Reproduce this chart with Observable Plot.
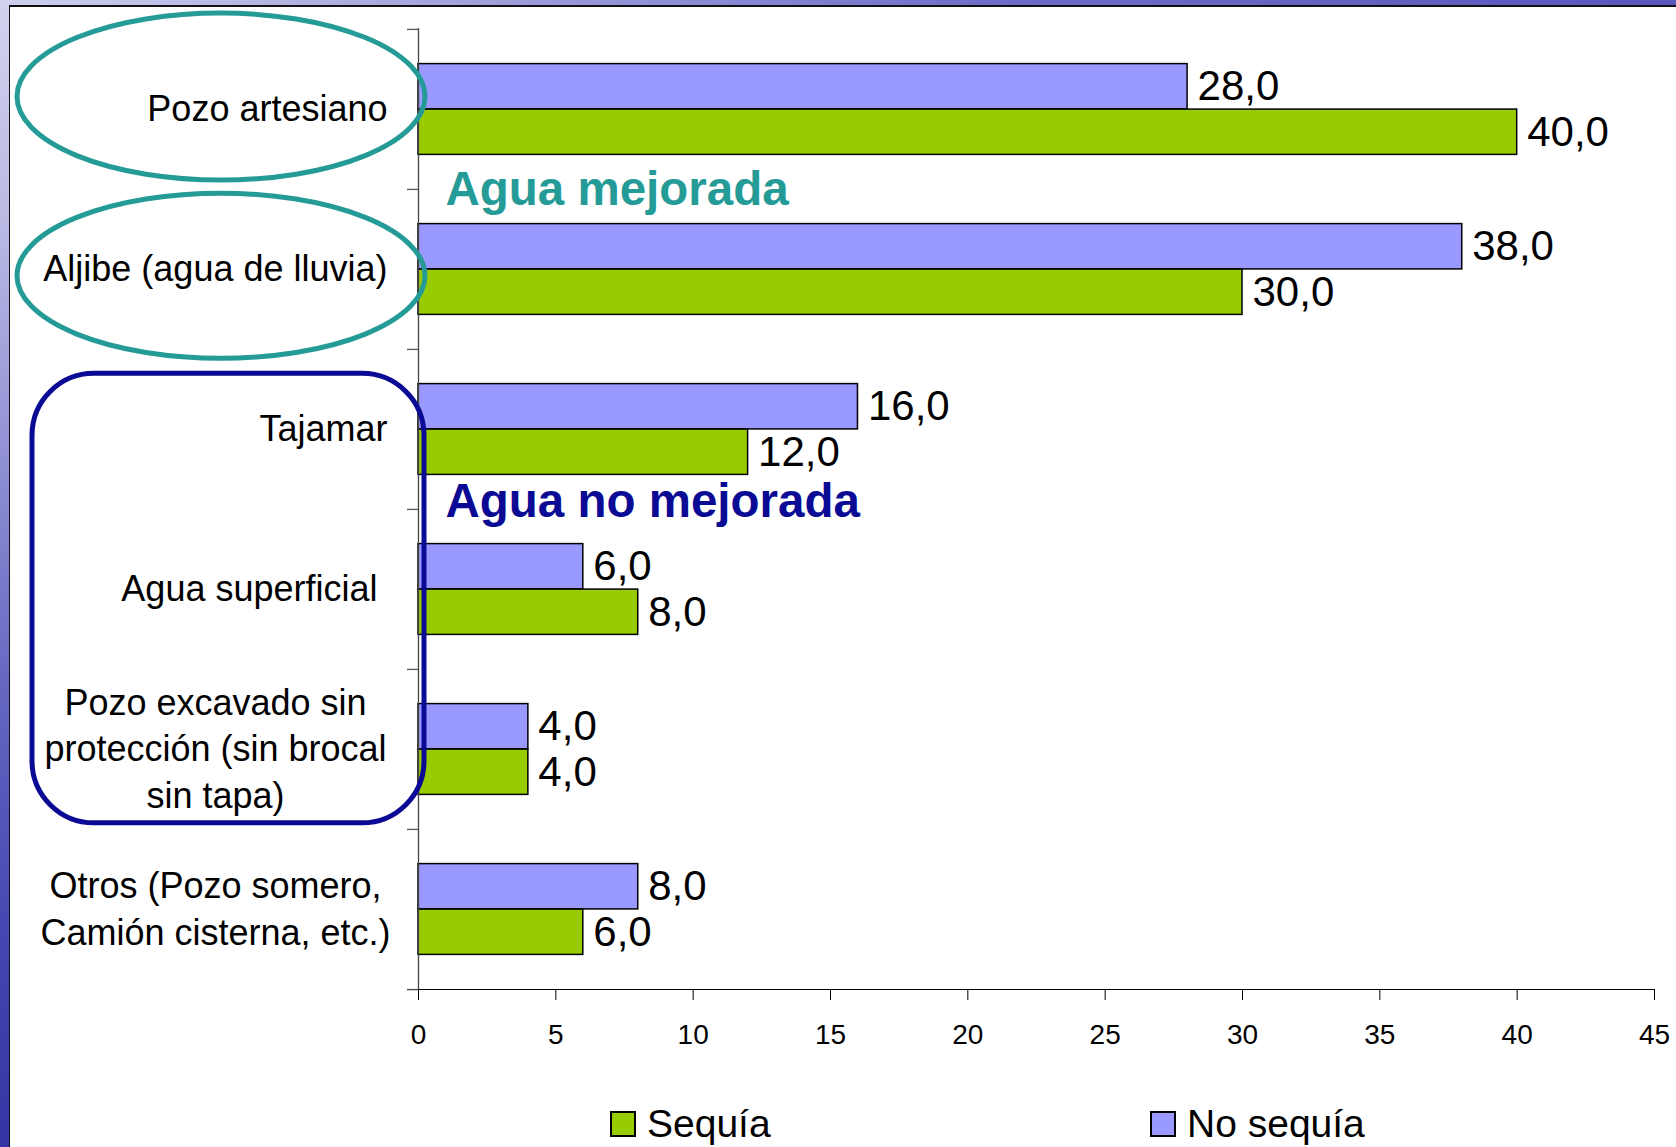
<!DOCTYPE html>
<html>
<head>
<meta charset="utf-8">
<script src="https://cdn.jsdelivr.net/npm/d3@7"></script>
<script src="https://cdn.jsdelivr.net/npm/@observablehq/plot@0.6"></script>
<style>
  html, body { margin: 0; padding: 0; }
  body { width: 1676px; height: 1147px; overflow: hidden; position: relative; background: #6a6ac6;
         font-family: "Liberation Sans", Arial, sans-serif; }
  #topstrip { position: absolute; left: 0; top: 0; width: 1676px; height: 8px;
    background: linear-gradient(90deg, #cfcfee 0%, #aeaee0 20%, #8e8ed6 40%, #6c6cc8 60%, #6262c2 80%, #5858bc 100%); }
  #leftstrip { position: absolute; left: 0; top: 0; width: 10px; height: 1147px;
    background: linear-gradient(180deg, #d2d2ee 0%, #b8b8e4 20%, #9090d4 40%, #6666c2 60%, #4848b2 80%, #3434a4 100%); }
  #panel { position: absolute; left: 9px; top: 5px; width: 1667px; height: 1142px; background: #fff;
    border-left: 1px solid #111; border-top: 2px solid #111; box-sizing: border-box; }
  #chart { position: absolute; left: 0; top: 0; }
  .lg { position: absolute; top: 1095px; display: flex; align-items: center; font-size: 39px; color: #000; }
  .lg .sw { width: 22px; height: 22px; border: 2px solid #000; margin-right: 11px; }
</style>
</head>
<body>
<div id="topstrip"></div>
<div id="leftstrip"></div>
<div id="panel">
  <div id="chart"></div>
  <div id="legend"></div>
</div>
<script>
// ---- data ----
const categories = [
  "Pozo artesiano",
  "Aljibe (agua de lluvia)",
  "Tajamar",
  "Agua superficial",
  "Pozo excavado sin protección (sin brocal sin tapa)",
  "Otros (Pozo somero, Camión cisterna, etc.)"
];
const singleLabels = ["Pozo artesiano", "Aljibe (agua de lluvia)", "Tajamar", "Agua superficial\u00a0"];
const wrappedLabels = ["Pozo excavado sin\nprotección (sin brocal\nsin tapa)", "Otros (Pozo somero,\nCamión cisterna, etc.)"];
const noSequia = [28, 38, 16, 6, 4, 8];
const sequia   = [40, 30, 12, 8, 4, 6];
const seriesNames = ["No sequía", "Sequía"];
const seriesColors = ["#9999ff", "#99cc00"];
const legendOrder = ["Sequía", "No sequía"];
const xTicks = [0, 5, 10, 15, 20, 25, 30, 35, 40, 45];
const groupLabels = ["Agua mejorada", "Agua no mejorada"];

// ---- tables ----
const rows = categories.flatMap((c, i) => [
  {cat: c, series: seriesNames[0], value: noSequia[i]},
  {cat: c, series: seriesNames[1], value: sequia[i]}
]);
const rowsNo = rows.filter(d => d.series === seriesNames[0]);
const rowsSi = rows.filter(d => d.series === seriesNames[1]);
const single = singleLabels.map((l, i) => ({cat: categories[i], label: l}));
const wrapped = wrappedLabels.map((l, i) => ({cat: categories[4 + i], label: l}));

// ---- layout ----
const W = 1666, H = 1083, mL = 408, mT = 21, mR = 22, mB = 101;
const step = (H - mT - mB) / categories.length;
const barH = step * 0.284;
const gap = (step - 2 * barH) / 2;
const fmt = v => v.toFixed(1).replace(".", ",");
const teal = "#259b97", navy = "#0a0a94";

const plot = Plot.plot({
  width: W, height: H,
  marginLeft: mL, marginTop: mT, marginRight: mR, marginBottom: mB,
  style: {background: "white", fontFamily: "'Liberation Sans', Arial, sans-serif", fontSize: "28px", color: "black", overflow: "visible"},
  x: {domain: [0, 45], ticks: xTicks, tickSize: 11, tickPadding: 24, line: true, label: null},
  y: {domain: categories, axis: null, padding: 0},
  color: {domain: seriesNames, range: seriesColors},
  marks: [
    Plot.barX(rowsNo, {x: "value", y: "cat", fill: "series", stroke: "black", strokeWidth: 1.5,
      insetTop: gap, insetBottom: step - gap - barH}),
    Plot.barX(rowsSi, {x: "value", y: "cat", fill: "series", stroke: "black", strokeWidth: 1.5,
      insetTop: gap + barH, insetBottom: gap}),
    Plot.ruleX([0], {stroke: "#444", strokeWidth: 1.3}),
    Plot.ruleY(categories, {y: d => d, dy: -step / 2, x1: -0.4, x2: 0, stroke: "#555", strokeWidth: 1.3}),
    Plot.ruleY([categories[categories.length - 1]], {y: d => d, dy: step / 2, x1: -0.4, x2: 0, stroke: "#444", strokeWidth: 1.3}),
    Plot.text(rowsNo, {x: "value", y: "cat", text: d => fmt(d.value), dx: 10, dy: -barH / 2,
      textAnchor: "start", fontSize: 42, fill: "black"}),
    Plot.text(rowsSi, {x: "value", y: "cat", text: d => fmt(d.value), dx: 10, dy: barH / 2,
      textAnchor: "start", fontSize: 42, fill: "black"}),
    Plot.text(single, {y: "cat", text: "label", frameAnchor: "left", textAnchor: "end", dx: -31,
      fontSize: 36, fill: "black"}),
    Plot.text(wrapped, {y: "cat", text: "label", frameAnchor: "left", textAnchor: "middle", dx: -203, dy: -3,
      fontSize: 36, lineHeight: 1.29, fill: "black"}),
    Plot.text([{cat: categories[1], label: groupLabels[0]}], {y: "cat", text: "label", frameAnchor: "left",
      textAnchor: "start", dx: 27, dy: -step / 2, fontSize: 47.5, fontWeight: "bold", fill: teal}),
    Plot.text([{cat: categories[3], label: groupLabels[1]}], {y: "cat", text: "label", frameAnchor: "left",
      textAnchor: "start", dx: 27, dy: -step / 2 - 8, fontSize: 47.5, fontWeight: "bold", fill: navy})
  ]
});
document.getElementById("chart").appendChild(plot);

// ---- annotation shapes (ellipses and rounded box in left margin) ----
const svg = d3.select(plot);
const bandCenter = i => mT + (i + 0.5) * step;
const g = svg.append("g").attr("fill", "none");
g.append("ellipse").attr("cx", mL - 197).attr("cy", bandCenter(0) - 11.5).attr("rx", 204).attr("ry", 83.5)
  .attr("stroke", teal).attr("stroke-width", 5);
g.append("ellipse").attr("cx", mL - 197).attr("cy", bandCenter(1) + 7.5).attr("rx", 204).attr("ry", 82.5)
  .attr("stroke", teal).attr("stroke-width", 5);
g.append("rect").attr("x", mL - 386).attr("y", mT + 2 * step + 25).attr("width", 392)
  .attr("height", (mT + 5 * step - 6) - (mT + 2 * step + 25)).attr("rx", 62).attr("ry", 62)
  .attr("stroke", navy).attr("stroke-width", 5);

// ---- legend ----
const colorScale = plot.scale("color");
const legendLeft = {"Sequía": 600, "No sequía": 1140};
const legend = document.getElementById("legend");
legendOrder.forEach(name => {
  const item = document.createElement("div");
  item.className = "lg";
  item.style.left = legendLeft[name] + "px";
  const sw = document.createElement("div");
  sw.className = "sw";
  sw.style.background = colorScale.range[colorScale.domain.indexOf(name)];
  const tx = document.createElement("span");
  tx.textContent = name;
  item.appendChild(sw);
  item.appendChild(tx);
  legend.appendChild(item);
});
</script>
</body>
</html>
